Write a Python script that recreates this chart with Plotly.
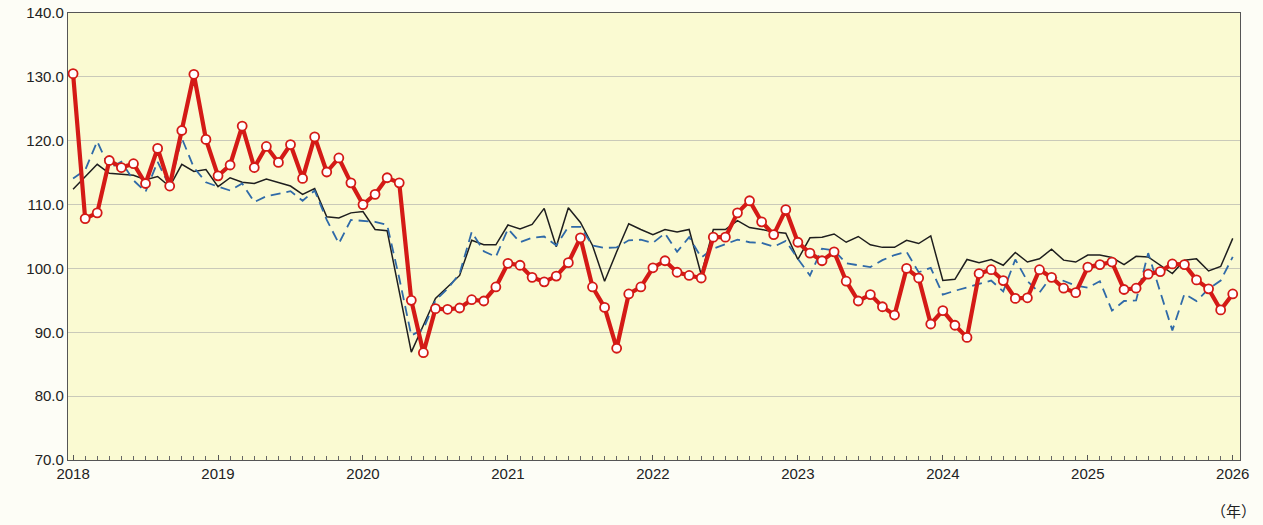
import plotly.graph_objects as go

years = ["2018", "2019", "2020", "2021", "2022", "2023", "2024", "2025", "2026"]

red_values = [
    130.5, 107.8, 108.7, 116.9, 115.8, 116.4, 113.3, 118.8, 112.9, 121.6, 130.4, 120.2,
    114.5, 116.2, 122.3, 115.8, 119.1, 116.6, 119.4, 114.1, 120.6, 115.1, 117.3, 113.4,
    110.0, 111.6, 114.2, 113.4, 95.0, 86.8, 93.7, 93.6, 93.8, 95.1, 94.9, 97.1,
    100.8, 100.5, 98.6, 97.9, 98.8, 100.9, 104.8, 97.1, 93.9, 87.5, 96.0, 97.1,
    100.1, 101.2, 99.4, 98.9, 98.5, 104.9, 104.9, 108.7, 110.6, 107.3, 105.3, 109.2,
    104.1, 102.4, 101.2, 102.6, 98.0, 94.9, 95.9, 94.0, 92.7, 100.0, 98.5, 91.3,
    93.4, 91.1, 89.2, 99.2, 99.8, 98.1, 95.3, 95.4, 99.8, 98.6, 96.9, 96.2,
    100.2, 100.6, 101.0, 96.7, 96.9, 99.1, 99.5, 100.7, 100.6, 98.2, 96.8, 93.5,
    96.0,
]

black_values = [
    112.4, 114.4, 116.3, 114.9, 114.7, 114.6, 113.9, 114.4, 112.8, 116.3, 115.2, 115.5,
    112.8, 114.2, 113.5, 113.3, 114.0, 113.4, 112.9, 111.6, 112.5, 108.1, 107.9, 108.7,
    108.9, 106.1, 105.9, 96.4, 86.9, 91.1, 95.3, 97.1, 98.9, 104.4, 103.7, 103.7,
    106.8, 106.2, 106.9, 109.4, 103.4, 109.5, 107.2, 103.6, 98.0, 102.6, 107.0, 106.1,
    105.3, 106.1, 105.7, 106.1, 99.0, 106.1, 106.1, 107.5, 106.4, 106.1, 105.7, 105.5,
    101.4, 104.8, 104.9, 105.4, 104.1, 105.0, 103.7, 103.3, 103.3, 104.4, 103.9, 105.1,
    98.1, 98.3, 101.4, 100.9, 101.4, 100.5, 102.5, 101.0, 101.5, 103.0, 101.3, 101.0,
    102.1, 102.1, 101.7, 100.6, 101.9, 101.8, 100.5, 99.2, 101.3, 101.5, 99.6, 100.3,
    104.7,
]

blue_values = [
    114.1, 115.4, 119.9, 115.7, 116.7, 113.8, 112.0, 116.7, 112.8, 120.4, 115.8, 113.5,
    112.8, 112.2, 113.3, 110.4, 111.3, 111.7, 112.1, 110.6, 112.2, 107.6, 103.9, 107.6,
    107.5, 107.3, 106.8, 98.5, 89.5, 90.5, 95.0, 96.8, 99.2, 105.7, 102.7, 101.8,
    106.2, 104.1, 104.8, 105.0, 103.6, 106.5, 106.5, 103.6, 103.2, 103.3, 104.4, 104.5,
    104.0, 105.5, 102.6, 104.9, 101.7, 103.1, 103.8, 104.5, 104.1, 104.0, 103.4, 104.3,
    101.5, 98.9, 103.1, 102.8, 100.8, 100.5, 100.2, 101.3, 102.1, 102.6, 99.4, 100.1,
    95.9, 96.5, 97.0, 97.6, 98.1, 96.4, 101.4, 98.0, 96.2, 98.8, 98.1, 97.3,
    97.0, 98.0, 93.4, 94.9, 95.0, 102.4, 96.3, 90.3, 96.0, 94.9, 96.8, 98.1,
    101.8,
]

y_ticks = [70, 80, 90, 100, 110, 120, 130, 140]

months = list(range(len(red_values)))
year_ticks = [i * 12 for i in range(len(years))]

fig = go.Figure()
fig.add_trace(go.Scatter(
    x=months, y=black_values, mode="lines",
    line=dict(color="#1e1e1e", width=1.5), showlegend=False))
fig.add_trace(go.Scatter(
    x=months, y=blue_values, mode="lines",
    line=dict(color="#2f6aa8", width=1.8, dash="10px,6px"), showlegend=False))
fig.add_trace(go.Scatter(
    x=months, y=red_values, mode="lines+markers",
    line=dict(color="#d41a16", width=4.2),
    marker=dict(symbol="circle", size=9, color="white",
                line=dict(color="#d41a16", width=1.8)),
    showlegend=False))

fig.update_layout(
    width=1263, height=525,
    margin=dict(l=68, r=23, t=13, b=65, autoexpand=False),
    paper_bgcolor="#fdfdf6",
    plot_bgcolor="#fafad2",
    font=dict(family="Liberation Sans, Arial, sans-serif", size=15, color="#222222"),
    xaxis=dict(
        range=[-0.42, 96.6], automargin=False,
        tickmode="array", tickvals=year_ticks, ticktext=years,
        showgrid=False, zeroline=False,
        showline=True, linecolor="#555555", linewidth=1.2, mirror=True,
        ticks="inside", ticklen=5, tickcolor="#555555",
        minor=dict(dtick=1, tick0=0, ticks="inside", ticklen=4, tickcolor="#666666", showgrid=False),
        tickfont=dict(size=15, color="#222222"),
        ticklabeloverflow="allow",
    ),
    yaxis=dict(
        range=[70, 140], automargin=False,
        tickmode="array", tickvals=y_ticks,
        ticktext=[f"{v:.1f}" for v in y_ticks],
        showgrid=True, gridcolor="#c9c9b9", gridwidth=1,
        zeroline=False,
        showline=True, linecolor="#555555", linewidth=1.2, mirror=True,
        ticks="", tickfont=dict(size=15, color="#222222"),
        ticklabeloverflow="allow",
    ),
    annotations=[dict(
        text="（年）", x=1.0, y=0, xref="paper", yref="paper",
        xanchor="right", yanchor="top", yshift=-38, xshift=18, showarrow=False,
        font=dict(family="Noto Sans CJK JP", size=15, color="#222222"))],
)

fig.write_html(
    "out.html",
    config={"displayModeBar": False},
    post_script="document.body.style.margin='0';document.body.style.background='#fdfdf6';",
)
